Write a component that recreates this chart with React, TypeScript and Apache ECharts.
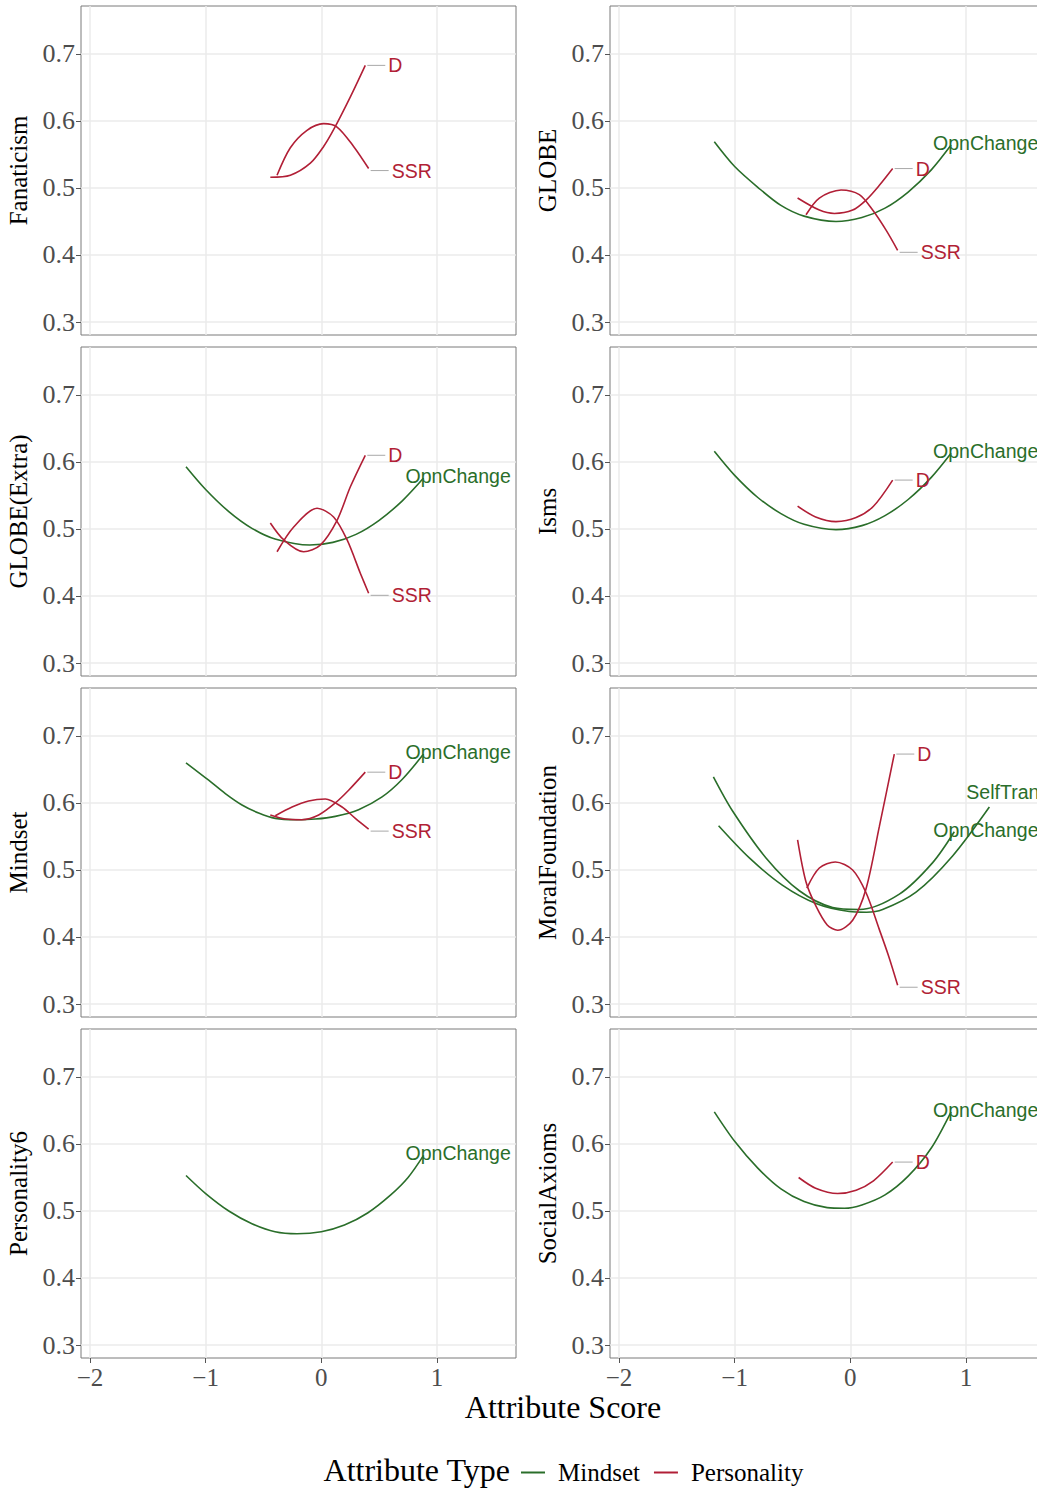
import React, { useEffect, useRef } from "react";
import * as echarts from "echarts";

// ---------- tick values ----------
const X_TICKS = [-2, -1, 0, 1];
const Y_TICKS = [0.3, 0.4, 0.5, 0.6, 0.7];

// ---------- panel names (facets) ----------
const PANELS = [
  "Fanaticism",
  "GLOBE",
  "GLOBE(Extra)",
  "Isms",
  "Mindset",
  "MoralFoundation",
  "Personality6",
  "SocialAxioms",
];

// ---------- curves: [attribute score, value] ----------
const fanaticismD = [[-0.441, 0.516], [-0.268, 0.519], [-0.095, 0.537], [0.02, 0.562], [0.106, 0.587], [0.251, 0.636], [0.38, 0.683]];
const fanaticismSSR = [[-0.383, 0.519], [-0.268, 0.56], [-0.124, 0.586], [0.02, 0.596], [0.136, 0.591], [0.279, 0.562], [0.409, 0.529]];

const globeOpn = [[-1.176, 0.569], [-1.0, 0.532], [-0.8, 0.501], [-0.6, 0.474], [-0.4, 0.458], [-0.124, 0.45], [0.1, 0.456], [0.3, 0.47], [0.5, 0.494], [0.7, 0.527], [0.871, 0.564]];
const globeD = [[-0.456, 0.485], [-0.268, 0.467], [-0.138, 0.462], [0.02, 0.467], [0.136, 0.482], [0.251, 0.504], [0.366, 0.529]];
const globeSSR = [[-0.383, 0.46], [-0.268, 0.485], [-0.08, 0.497], [0.078, 0.49], [0.193, 0.467], [0.309, 0.437], [0.409, 0.407]];

const globeExtraOpn = [[-1.17, 0.593], [-1.0, 0.559], [-0.8, 0.526], [-0.6, 0.501], [-0.4, 0.485], [-0.1, 0.476], [0.1, 0.48], [0.3, 0.492], [0.5, 0.513], [0.7, 0.542], [0.884, 0.576]];
const globeExtraD = [[-0.441, 0.509], [-0.326, 0.484], [-0.153, 0.466], [-0.009, 0.476], [0.136, 0.513], [0.251, 0.563], [0.38, 0.61]];
const globeExtraSSR = [[-0.383, 0.466], [-0.239, 0.503], [-0.037, 0.531], [0.106, 0.518], [0.222, 0.484], [0.337, 0.434], [0.409, 0.404]];

const ismsOpn = [[-1.176, 0.616], [-1.0, 0.58], [-0.8, 0.547], [-0.6, 0.523], [-0.4, 0.507], [-0.124, 0.499], [0.1, 0.505], [0.3, 0.52], [0.5, 0.544], [0.7, 0.577], [0.871, 0.613]];
const ismsD = [[-0.456, 0.534], [-0.3, 0.518], [-0.124, 0.511], [0.05, 0.517], [0.2, 0.534], [0.366, 0.573]];

const mindsetOpn = [[-1.17, 0.66], [-0.974, 0.634], [-0.83, 0.614], [-0.686, 0.597], [-0.542, 0.585], [-0.398, 0.577], [-0.225, 0.575], [-0.052, 0.576], [0.121, 0.58], [0.322, 0.59], [0.525, 0.609], [0.698, 0.635], [0.884, 0.673]];
const mindsetD = [[-0.441, 0.582], [-0.311, 0.576], [-0.167, 0.575], [-0.023, 0.582], [0.121, 0.6], [0.236, 0.619], [0.38, 0.646]];
const mindsetSSR = [[-0.398, 0.581], [-0.253, 0.594], [-0.11, 0.603], [0.035, 0.606], [0.179, 0.594], [0.294, 0.577], [0.409, 0.561]];

const moralOpn = [[-1.184, 0.639], [-1.018, 0.588], [-0.729, 0.518], [-0.441, 0.469], [-0.153, 0.444], [0.078, 0.441], [0.424, 0.464], [0.712, 0.511], [0.899, 0.557]];
const moralSelf = [[-1.139, 0.566], [-0.873, 0.518], [-0.585, 0.477], [-0.297, 0.45], [-0.009, 0.438], [0.14, 0.437], [0.279, 0.441], [0.568, 0.467], [0.884, 0.521], [1.202, 0.594]];
const moralD = [[-0.456, 0.545], [-0.383, 0.482], [-0.297, 0.446], [-0.2, 0.418], [-0.109, 0.41], [0.02, 0.425], [0.136, 0.472], [0.251, 0.565], [0.38, 0.673]];
const moralSSR = [[-0.376, 0.473], [-0.268, 0.503], [-0.13, 0.512], [0.02, 0.5], [0.136, 0.466], [0.251, 0.411], [0.33, 0.372], [0.409, 0.328]];

const personality6Opn = [[-1.17, 0.553], [-1.0, 0.526], [-0.8, 0.5], [-0.6, 0.481], [-0.4, 0.469], [-0.21, 0.466], [0.0, 0.469], [0.2, 0.479], [0.4, 0.497], [0.6, 0.524], [0.75, 0.55], [0.884, 0.583]];

const socialOpn = [[-1.176, 0.648], [-1.0, 0.604], [-0.8, 0.564], [-0.6, 0.533], [-0.4, 0.514], [-0.2, 0.505], [-0.05, 0.504], [0.1, 0.509], [0.3, 0.524], [0.5, 0.552], [0.7, 0.594], [0.871, 0.648]];
const socialD = [[-0.447, 0.55], [-0.3, 0.534], [-0.11, 0.526], [0.05, 0.531], [0.2, 0.545], [0.366, 0.573]];

type Curve = { panel: number; type: "Mindset" | "Personality"; label: string; data: number[][] };

const CURVES: Curve[] = [
  { panel: 0, type: "Personality", label: "D", data: fanaticismD },
  { panel: 0, type: "Personality", label: "SSR", data: fanaticismSSR },
  { panel: 1, type: "Mindset", label: "OpnChange", data: globeOpn },
  { panel: 1, type: "Personality", label: "D", data: globeD },
  { panel: 1, type: "Personality", label: "SSR", data: globeSSR },
  { panel: 2, type: "Mindset", label: "OpnChange", data: globeExtraOpn },
  { panel: 2, type: "Personality", label: "D", data: globeExtraD },
  { panel: 2, type: "Personality", label: "SSR", data: globeExtraSSR },
  { panel: 3, type: "Mindset", label: "OpnChange", data: ismsOpn },
  { panel: 3, type: "Personality", label: "D", data: ismsD },
  { panel: 4, type: "Mindset", label: "OpnChange", data: mindsetOpn },
  { panel: 4, type: "Personality", label: "D", data: mindsetD },
  { panel: 4, type: "Personality", label: "SSR", data: mindsetSSR },
  { panel: 5, type: "Mindset", label: "OpnChange", data: moralOpn },
  { panel: 5, type: "Mindset", label: "SelfTran", data: moralSelf },
  { panel: 5, type: "Personality", label: "D", data: moralD },
  { panel: 5, type: "Personality", label: "SSR", data: moralSSR },
  { panel: 6, type: "Mindset", label: "OpnChange", data: personality6Opn },
  { panel: 7, type: "Mindset", label: "OpnChange", data: socialOpn },
  { panel: 7, type: "Personality", label: "D", data: socialD },
];

// ---------- styling ----------
const COLORS: Record<string, string> = { Mindset: "#2a6e2a", Personality: "#b11f36" };
const LABEL_POS: Record<string, { dx: number; dy: number; seg: boolean }> = {
  D: { dx: 2, dy: 0, seg: true },
  SSR: { dx: 2, dy: 2, seg: true },
  OpnChange: { dx: -21, dy: -2, seg: false },
  SelfTran: { dx: -26, dy: -15, seg: false },
};
// extra horizontal nudges for individual labels (repel-style placement), keyed "panel:label"
const LABEL_NUDGE: Record<string, number> = { "5:OpnChange": -3 };
const SERIF = "Liberation Serif";
const SANS = "Liberation Sans";
const COL_LEFT = [81, 610];
const ROW_TOP = [6, 347, 688, 1029];
const PANEL_W = 435;
const PANEL_H = 329;
const X_MIN = -2.0778;
const X_MAX = 1.683;
const Y_MIN = 0.2806;
const Y_MAX = 0.7716;

const fmtX = (v: number) => (v < 0 ? "\u2212" + Math.abs(v) : String(v));

export default function App() {
  const ref = useRef<HTMLDivElement>(null);
  useEffect(() => {
    if (!ref.current) return;
    const chart = echarts.init(ref.current, null, { renderer: "svg" });

    const grids = PANELS.map((_, i) => ({
      left: COL_LEFT[i % 2],
      top: ROW_TOP[Math.floor(i / 2)],
      width: PANEL_W,
      height: PANEL_H,
      show: true,
      borderColor: "#7a7a7a",
      borderWidth: 1,
      backgroundColor: "transparent",
    }));

    const xAxes = PANELS.map((_, i) => {
      const bottom = Math.floor(i / 2) === 3;
      return {
        gridIndex: i,
        type: "value",
        min: X_MIN,
        max: X_MAX,
        axisLine: { show: false, onZero: false },
        axisTick: { show: bottom, length: 5, customValues: X_TICKS, lineStyle: { color: "#555" } },
        axisLabel: {
          show: bottom,
          customValues: X_TICKS,
          formatter: fmtX,
          fontFamily: SERIF,
          fontSize: 25,
          color: "#4d4d4d",
          margin: 7,
        },
        splitLine: { show: true, lineStyle: { color: "#ebebeb", width: 1.5 } },
      };
    });

    const yAxes = PANELS.map((name, i) => ({
      gridIndex: i,
      type: "value",
      min: Y_MIN,
      max: Y_MAX,
      name,
      nameLocation: "middle",
      nameGap: 50,
      nameRotate: 90,
      nameTextStyle: { fontFamily: SERIF, fontSize: 25, color: "#000" },
      axisLine: { show: false, onZero: false },
      axisTick: { show: true, length: 5, customValues: Y_TICKS, lineStyle: { color: "#555" } },
      axisLabel: {
        customValues: Y_TICKS,
        formatter: (v: number) => v.toFixed(1),
        fontFamily: SERIF,
        fontSize: 26,
        color: "#4d4d4d",
        margin: 6,
      },
      splitLine: { show: true, lineStyle: { color: "#ebebeb", width: 1.5 } },
    }));

    const series = CURVES.map((c) => {
      const color = COLORS[c.type];
      const lp = LABEL_POS[c.label];
      const nudge = LABEL_NUDGE[c.panel + ":" + c.label] || 0;
      return {
        type: "line",
        name: c.type,
        xAxisIndex: c.panel,
        yAxisIndex: c.panel,
        data: c.data,
        smooth: 0.3,
        symbol: "none",
        showSymbol: false,
        silent: true,
        z: c.type === "Personality" ? 3 : 2,
        lineStyle: { color, width: 1.6 },
        itemStyle: { color },
        emphasis: { disabled: true },
        endLabel: {
          show: true,
          distance: 0,
          offset: [lp.dx + nudge, lp.dy],
          formatter: lp.seg ? "{s| }{t|" + c.label + "}" : "{t|" + c.label + "}",
          rich: {
            s: { width: 18, height: 1, backgroundColor: "#a8a8a8" },
            t: { color, fontFamily: SANS, fontSize: 19.5, padding: [0, 0, 0, 3] },
          },
        },
      };
    });

    chart.setOption({
      animation: false,
      backgroundColor: "#ffffff",
      grid: grids,
      xAxis: xAxes,
      yAxis: yAxes,
      series,
      legend: {
        data: ["Mindset", "Personality"],
        left: 516,
        top: 1455,
        icon: "rect",
        itemWidth: 24,
        itemHeight: 2,
        itemGap: 14,
        selectedMode: false,
        textStyle: { fontFamily: SERIF, fontSize: 25, color: "#000", padding: [0, 0, 0, 8] },
      },
      graphic: [
        {
          type: "text",
          x: 563,
          y: 1407,
          style: {
            text: "Attribute Score",
            fontFamily: SERIF,
            fontSize: 32,
            fill: "#000",
            align: "center",
            verticalAlign: "middle",
          },
        },
        {
          type: "text",
          x: 510,
          y: 1470,
          style: {
            text: "Attribute Type",
            fontFamily: SERIF,
            fontSize: 32,
            fill: "#000",
            align: "right",
            verticalAlign: "middle",
          },
        },
      ],
    });

    return () => chart.dispose();
  }, []);

  return (
    <div style={{ position: "absolute", left: 0, top: 0, width: 1037, height: 1488, overflow: "hidden", background: "#fff" }}>
      <div ref={ref} style={{ width: 1100, height: 1488 }} />
    </div>
  );
}
